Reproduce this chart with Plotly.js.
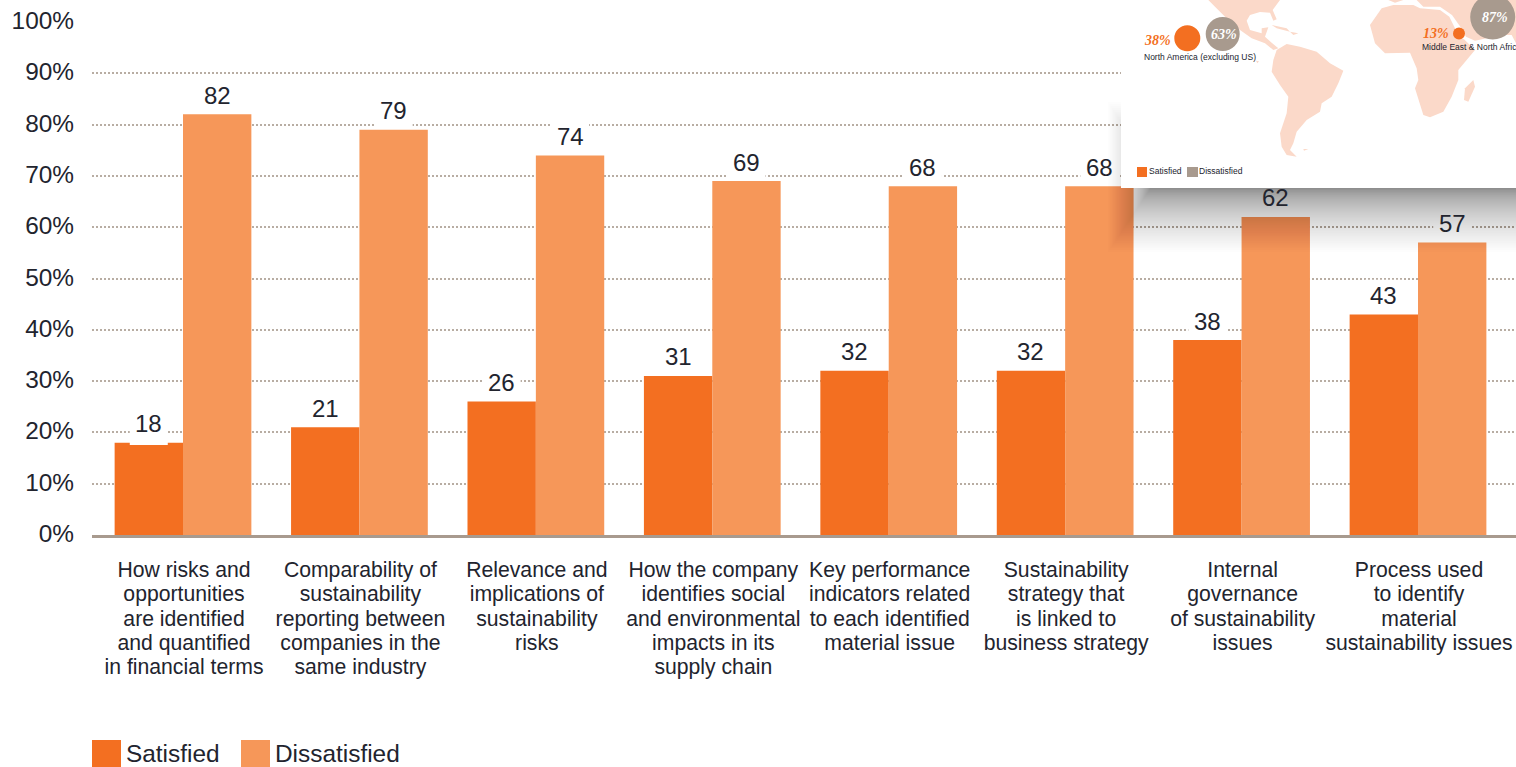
<!DOCTYPE html>
<html><head><meta charset="utf-8">
<script src="https://cdn.plot.ly/plotly-3.0.1.min.js"></script>
<style>
html,body{margin:0;padding:0;background:#fff;overflow:hidden}
#chart{width:1516px;height:767px}
</style></head><body><div id="chart"></div>
<script>
const categories = [
 "How risks and<br>opportunities<br>are identified<br>and quantified<br>in financial terms",
 "Comparability of<br>sustainability<br>reporting between<br>companies in the<br>same industry",
 "Relevance and<br>implications of<br>sustainability<br>risks",
 "How the company<br>identifies social<br>and environmental<br>impacts in its<br>supply chain",
 "Key performance<br>indicators related<br>to each identified<br>material issue",
 "Sustainability<br>strategy that<br>is linked to<br>business strategy",
 "Internal<br>governance<br>of sustainability<br>issues",
 "Process used<br>to identify<br>material<br>sustainability issues"
];
const satisfied = [18,21,26,31,32,32,38,43];
const dissatisfied = [82,79,74,69,68,68,62,57];
const yTicks = [0,10,20,30,40,50,60,70,80,90,100];
const ORANGE='#f36f21', LIGHT='#f69759', TAUPE='#a89a8e', GRID='#b8ada3', INK='#22242e', PINK='#fbd9c9';

const L=92, R=1516, B=535, T=22, W=R-L, H=B-T;
const px=x=>(x-L)/W, py=y=>(B-y)/H;
const cat=176.43, c0=183;
const font='"Liberation Sans", Arial, sans-serif', serif='"Liberation Serif", "DejaVu Serif", serif';
const X_FONT=21.2, X_LINE=24.3;

const traces=[
 {type:'bar',name:'Satisfied',x:categories,y:satisfied,marker:{color:ORANGE},hoverinfo:'x+y'},
 {type:'bar',name:'Dissatisfied',x:categories,y:dissatisfied,marker:{color:LIGHT},hoverinfo:'x+y'}
];

const shapes=[], annotations=[];
const barOff=0.194, maskHalf=19/cat, maskH=33/(H/100);
function labelFor(i,v,side){
  const xc=i+side*barOff;
  const notch = v===18 ? -0.45 : 0.3;
  shapes.push({type:'rect',layer:'above',xref:'x',yref:'y',x0:xc-maskHalf,x1:xc+maskHalf,y0:v+notch,y1:v+maskH*1.05,
    fillcolor:'#fff',line:{width:0}});
  annotations.push({xref:'x',yref:'y',x:xc,y:v,yshift:19,text:String(v),showarrow:false,xanchor:'center',yanchor:'middle',
    font:{family:font,size:24,color:INK},borderpad:0,borderwidth:0});
}
satisfied.forEach((v,i)=>labelFor(i,v,-1));
dissatisfied.forEach((v,i)=>labelFor(i,v,1));

// inset panel: soft drop shadow
const N=70;
for(let k=0;k<N;k++){
  const t=(k+1)/N, s=t*t;
  const left=1152-44*s, bot=186+66*s, top=172-70*s;
  shapes.push({type:'rect',layer:'above',xref:'paper',yref:'paper',x0:px(left),x1:px(1530),y0:py(bot),y1:py(top),
    fillcolor:'#000',opacity:0.0098,line:{width:0}});
}
shapes.push({type:'rect',layer:'above',xref:'paper',yref:'paper',x0:px(1121),x1:px(1530),y0:py(188),y1:py(-10),fillcolor:'#fff',line:{width:0}});

function poly(ox,oy,pts,color){
  let d='';
  for(let i=0;i<pts.length;i+=2){
    d+=(i?'L':'M')+px(ox+pts[i]/3).toFixed(5)+','+py(oy+pts[i+1]/3).toFixed(5);
  }
  shapes.push({type:'path',layer:'above',xref:'paper',yref:'paper',path:d+'Z',fillcolor:color||PINK,line:{width:0}});
}
// Americas
poly(1130,0,[235,0,450,0,428,30,440,58,430,62,420,38,390,36,360,45,350,62,360,90,395,100,395,85,415,82,405,110,425,128,445,145,430,150,405,130,365,115,330,90,285,50,255,20]);
poly(1130,0,[425,75,470,85,480,95,440,85]);
poly(1130,0,[480,95,505,100,490,105]);
poly(1130,0,[440,150,470,132,510,140,560,155,600,190,640,212,625,250,605,290,575,310,570,335,530,360,500,395,490,430,480,450,500,470,470,465,455,440,450,400,470,340,475,290,450,255,425,215,430,180]);
poly(1130,0,[520,447,535,447,522,452]);
poly(1130,0,[378,182,387,184,382,190]);
// Africa, Eurasia
poly(1360,0,[65,25,30,75,45,130,75,160,150,158,170,205,175,240,165,265,190,345,210,352,250,335,275,290,295,240,295,210,345,150,312,118,295,110,285,85,268,50,240,30,180,25,160,15,100,15]);
poly(1360,0,[170,0,468,0,468,130,455,105,420,105,380,115,345,122,318,110,302,82,276,45,240,20,190,20]);
poly(1360,0,[340,240,345,260,325,305,312,300,315,265]);
poly(1360,0,[85,0,130,0,105,8]);

function circle(cx,cy,r,color){
  shapes.push({type:'circle',layer:'above',xref:'paper',yref:'paper',x0:px(cx-r),x1:px(cx+r),y0:py(cy+r),y1:py(cy-r),fillcolor:color,line:{width:0}});
}
circle(1187.3,38.3,13,ORANGE);
circle(1222.7,34,17,TAUPE);
circle(1459,33.5,6,ORANGE);
circle(1492.7,17,22.5,TAUPE);

function box(x0,x1,y0,y1,color){
  shapes.push({type:'rect',layer:'above',xref:'paper',yref:'paper',x0:px(x0),x1:px(x1),y0:py(y1),y1:py(y0),fillcolor:color,line:{width:0}});
}
box(1137,1147,167,177,ORANGE);
box(1187,1198,167,177,TAUPE);
box(92,121,740,775,ORANGE);
box(241,270,740,775,LIGHT);

function note(x,y,text,size,color,opts){
  annotations.push(Object.assign({xref:'paper',yref:'paper',x:px(x),y:py(y),text,showarrow:false,xanchor:'left',yanchor:'middle',
    font:{family:font,size,color},borderpad:0,borderwidth:0},opts||{}));
}
const serifBold=(c)=>({font:{family:serif,size:14,color:c,style:'italic',weight:700}});
note(1144,40,'38%',14,ORANGE,serifBold(ORANGE));
note(1223.5,34.5,'63%',14,'#fff',Object.assign({xanchor:'center'},serifBold('#fff')));
note(1423,33.5,'13%',14,ORANGE,serifBold(ORANGE));
note(1495,17.5,'87%',14,'#fff',Object.assign({xanchor:'center'},serifBold('#fff')));
note(1144,57,'North America (excluding US)',8.5,INK);
note(1422,47.5,'Middle East &amp; North Africa',8.5,INK);
note(1149,171.5,'Satisfied',8.5,INK);
note(1199,171.5,'Dissatisfied',8.5,INK);
note(125.5,753.5,'Satisfied',24.4,INK);
note(274.5,753.5,'Dissatisfied',24.4,INK);

const layout={
  width:1516,height:767,paper_bgcolor:'#fff',plot_bgcolor:'#fff',showlegend:false,
  margin:{l:L,r:0,t:T,b:767-B,pad:0},
  barmode:'group',bargap:0.225,bargroupgap:0,
  xaxis:{type:'category',categoryorder:'array',categoryarray:categories,
    range:[-(c0-L)/cat,(R-c0)/cat],tickangle:0,ticks:'',ticklabelstandoff:13,
    tickfont:{family:font,size:X_FONT,color:INK},showgrid:false,
    showline:true,linecolor:TAUPE,linewidth:3,zeroline:false,automargin:false},
  yaxis:{range:[0,100],tickvals:yTicks,ticktext:yTicks.map(v=>v+'%'),ticks:'',ticklabelstandoff:16,
    tickfont:{family:font,size:24.4,color:INK},showgrid:true,gridcolor:GRID,gridwidth:2.2,griddash:'2.2px,1.8px',
    zeroline:false,showline:false,automargin:false},
  shapes,annotations
};
// The reference's category labels are set tighter than Plotly's fixed 1.3em leading.
function tighten(){
  document.querySelectorAll('.xtick text').forEach(t=>{
    t.querySelectorAll('tspan.line').forEach((ln,i)=>{
      ln.setAttribute('dy',(i*X_LINE/X_FONT)+'em');
    });
    t.setAttribute('transform',(t.getAttribute('transform')||'')+' translate(1,0.5)');
  });
  document.querySelectorAll('.ytick text').forEach(t=>{
    t.setAttribute('transform',(t.getAttribute('transform')||'')+' translate(-1,-1.5)');
  });
}
Plotly.newPlot('chart',traces,layout,{displayModeBar:false,responsive:false}).then(tighten);
</script></body></html>
